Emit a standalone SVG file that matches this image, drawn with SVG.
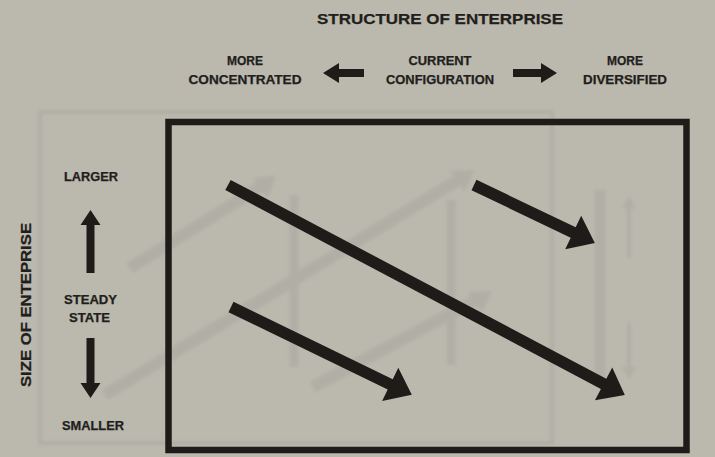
<svg xmlns="http://www.w3.org/2000/svg" width="715" height="457" viewBox="0 0 715 457">
  <style>
    .t { font-family: "Liberation Sans", Arial, Helvetica, sans-serif; font-weight: bold; fill: #221e1b; stroke: #221e1b; stroke-width: 0.25; }
    .lbl { font-size: 12px; }
    .ink { fill: #1f1b18; }
    .ghost { fill: none; stroke: #a4a29c; stroke-linecap: butt; }
    .ghostfill { fill: #a4a29c; }
  </style>
  <defs>
    <filter id="soft" x="-10%" y="-10%" width="120%" height="120%">
      <feGaussianBlur stdDeviation="1.8"/>
    </filter>
  </defs>

  <!-- paper -->
  <rect x="0" y="0" width="715" height="457" fill="#bbb8ae"/>

  <!-- faint print from the reverse side of the sheet -->
  <g id="show-through" opacity="0.42" filter="url(#soft)">
    <rect class="ghost" x="40" y="112" width="512" height="331" stroke-width="4"/>
    <line class="ghost" x1="130" y1="268" x2="262" y2="186" stroke-width="12"/>
    <polygon class="ghostfill" points="276,176 252,178 268,198"/>
    <line class="ghost" x1="105" y1="395" x2="458" y2="180" stroke-width="12"/>
    <polygon class="ghostfill" points="474,170 450,171 465,192"/>
    <line class="ghost" x1="313" y1="387" x2="478" y2="299" stroke-width="12"/>
    <polygon class="ghostfill" points="492,291 468,292 482,312"/>
    <line class="ghost" x1="294" y1="195" x2="294" y2="367" stroke-width="9"/>
    <line class="ghost" x1="451" y1="200" x2="451" y2="365" stroke-width="9"/>
    <line class="ghost" x1="600" y1="190" x2="600" y2="385" stroke-width="11"/>
    <line class="ghost" x1="629" y1="205" x2="629" y2="258" stroke-width="4"/>
    <polygon class="ghostfill" points="629,196 622,208 636,208"/>
    <line class="ghost" x1="629" y1="323" x2="629" y2="370" stroke-width="4"/>
    <polygon class="ghostfill" points="629,379 622,367 636,367"/>
  </g>

  <!-- heading -->
  <g id="title">
    <text class="t" x="440" y="24.4" font-size="15" text-anchor="middle" textLength="246" lengthAdjust="spacingAndGlyphs">STRUCTURE OF ENTERPRISE</text>
  </g>

  <g id="more-concentrated">
    <text class="t lbl" x="245" y="65.3" text-anchor="middle" textLength="36" lengthAdjust="spacingAndGlyphs">MORE</text>
    <text class="t lbl" x="245" y="84.3" text-anchor="middle" textLength="113" lengthAdjust="spacingAndGlyphs">CONCENTRATED</text>
  </g>
  <g id="current-configuration">
    <text class="t lbl" x="440" y="65.3" text-anchor="middle" textLength="63" lengthAdjust="spacingAndGlyphs">CURRENT</text>
    <text class="t lbl" x="440" y="84.3" text-anchor="middle" textLength="108" lengthAdjust="spacingAndGlyphs">CONFIGURATION</text>
  </g>
  <g id="more-diversified">
    <text class="t lbl" x="625" y="65.3" text-anchor="middle" textLength="36" lengthAdjust="spacingAndGlyphs">MORE</text>
    <text class="t lbl" x="625" y="84.3" text-anchor="middle" textLength="84" lengthAdjust="spacingAndGlyphs">DIVERSIFIED</text>
  </g>

  <g id="size-axis-label">
    <text class="t" transform="translate(30.5,305) rotate(-90)" x="0" y="0" font-size="14.5" text-anchor="middle" textLength="164" lengthAdjust="spacingAndGlyphs">SIZE OF ENTEPRISE</text>
  </g>
  <g id="larger">
    <text class="t lbl" x="91" y="181.3" text-anchor="middle" textLength="54" lengthAdjust="spacingAndGlyphs">LARGER</text>
  </g>
  <g id="steady-state">
    <text class="t lbl" x="90.5" y="303.5" text-anchor="middle" textLength="53" lengthAdjust="spacingAndGlyphs">STEADY</text>
    <text class="t lbl" x="89.5" y="321.5" text-anchor="middle" textLength="41" lengthAdjust="spacingAndGlyphs">STATE</text>
  </g>
  <g id="smaller">
    <text class="t lbl" x="93" y="429.5" text-anchor="middle" textLength="62" lengthAdjust="spacingAndGlyphs">SMALLER</text>
  </g>

  <!-- field of possible moves -->
  <g id="frame">
    <rect x="168.5" y="122" width="518" height="328" fill="none" stroke="#1f1b18" stroke-width="6.5"/>
  </g>

  <g id="connectors">
    <!-- horizontal: structure direction -->
    <path class="ink" d="M323,73 L339,63 V69 H364 V77 H339 V83 Z"/>
    <path class="ink" d="M557,73 L541,63 V69 H513 V77 H541 V83 Z"/>
    <!-- vertical: size direction -->
    <path class="ink" d="M90.5,210 L100.5,225 H94.5 V273 H86.5 V225 H80.5 Z"/>
    <path class="ink" d="M90.5,398 L100.5,383 H94.5 V338 H86.5 V383 H80.5 Z"/>
    <!-- diagonal moves -->
    <path class="ink" transform="translate(228,185) rotate(27.9)" d="M0,-5.75 H425 V-18.5 L449,0 L425,18.5 V5.75 H0 Z"/>
    <path class="ink" transform="translate(474,185) rotate(25.6)" d="M0,-5.75 H110 V-18.5 L134,0 L110,18.5 V5.75 H0 Z"/>
    <path class="ink" transform="translate(231,307) rotate(25.9)" d="M0,-5.75 H177 V-18.5 L201,0 L177,18.5 V5.75 H0 Z"/>
  </g>
</svg>
